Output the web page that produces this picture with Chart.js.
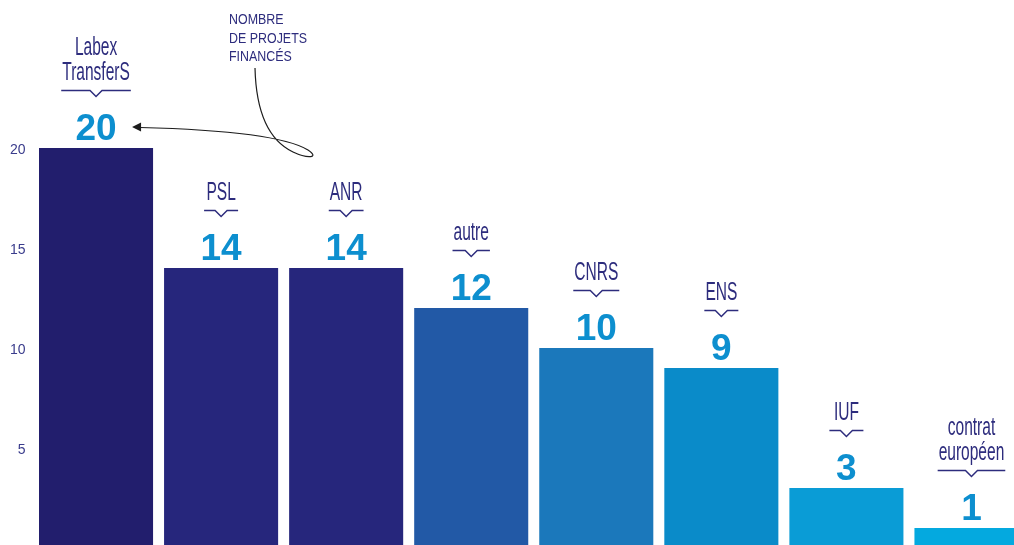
<!DOCTYPE html>
<html lang="fr">
<head>
<meta charset="utf-8">
<script src="https://cdn.jsdelivr.net/npm/chart.js@4.4.1/dist/chart.umd.min.js"></script>
<style>
  html, body { margin: 0; padding: 0; background: #fff; overflow: hidden; }
  #wrap { position: relative; width: 1034px; height: 548px; }
</style>
</head>
<body>
<div id="wrap"><canvas id="projets"></canvas></div>
<script>
// ------------------------------------------------------------
// données
// ------------------------------------------------------------
const categories = [['Labex', 'TransferS'], ['PSL'], ['ANR'], ['autre'], ['CNRS'], ['ENS'], ['IUF'], ['contrat', 'européen']];
const projets = [20, 14, 14, 12, 10, 9, 3, 1];
const barColors = ['#221e6d', '#26267c', '#26267c', '#2259a6', '#1b78bb', '#0a8bc9', '#0a9cd6', '#04a9df'];
const yTicks = [5, 10, 15, 20];
const calloutLines = ['NOMBRE', 'DE PROJETS', 'FINANCÉS'];

const navy = '#2d2c7d';
const valueBlue = '#0d8fcf';
const narrow = "'Liberation Sans Narrow', 'Liberation Sans', sans-serif";
const sans = "'Liberation Sans', Arial, sans-serif";

// draw text squeezed horizontally (the original uses a condensed face)
function squeezed(ctx, text, x, y, sx, align) {
    ctx.save();
    ctx.translate(x, y);
    ctx.scale(sx, 1);
    ctx.textAlign = align;
    ctx.fillText(text, 0, 0);
    ctx.restore();
}

const annotations = {
    id: 'annotations',
    afterDatasetsDraw(chart) {
        const ctx = chart.ctx;
        const meta = chart.getDatasetMeta(0);

        ctx.save();
        ctx.font = `26px ${narrow}`;
        const sx = 44 / ctx.measureText('CNRS').width;

        meta.data.forEach((bar, i) => {
            const x = bar.x;
            const top = bar.y;

            // value above bar
            ctx.font = `bold 37px ${sans}`;
            ctx.fillStyle = valueBlue;
            ctx.textAlign = 'center';
            ctx.textBaseline = 'alphabetic';
            ctx.fillText(String(projets[i]), x, top - 8);

            // category label + little bracket
            const lines = categories[i];
            const lineY = top - 57.5;
            ctx.font = `26px ${narrow}`;
            const w = Math.max(...lines.map(l => ctx.measureText(l).width * sx));
            const half = Math.max(w + 2, 34) / 2;

            ctx.strokeStyle = navy;
            ctx.lineWidth = 1.5;
            ctx.beginPath();
            ctx.moveTo(x - half, lineY);
            ctx.lineTo(x - 6, lineY);
            ctx.lineTo(x, lineY + 6);
            ctx.lineTo(x + 6, lineY);
            ctx.lineTo(x + half, lineY);
            ctx.stroke();

            ctx.fillStyle = navy;
            lines.forEach((l, k) => {
                const by = lineY - 11 - (lines.length - 1 - k) * 25;
                squeezed(ctx, l, x, by, sx, 'center');
            });
        });

        // callout "nombre de projets financés"
        ctx.font = `15px ${narrow}`;
        const sx2 = 78 / ctx.measureText('DE PROJETS').width;
        ctx.fillStyle = navy;
        calloutLines.forEach((l, k) => {
            squeezed(ctx, l, 229, 24 + k * 18.7, sx2, 'left');
        });

        // looping arrow towards the first value
        const first = meta.data[0];
        const tipX = first.x + 36;
        const tipY = first.y - 21;
        ctx.strokeStyle = '#1c1c1c';
        ctx.lineWidth = 1.2;
        ctx.beginPath();
        ctx.moveTo(255, 68);
        ctx.bezierCurveTo(256, 110, 268, 140, 293, 152);
        ctx.bezierCurveTo(308, 159, 320, 158, 308, 150);
        ctx.bezierCurveTo(290, 139, 240, 130, tipX + 8, tipY + 0.5);
        ctx.stroke();

        ctx.fillStyle = '#1c1c1c';
        ctx.beginPath();
        ctx.moveTo(tipX, tipY);
        ctx.lineTo(tipX + 9, tipY - 4.5);
        ctx.lineTo(tipX + 9, tipY + 4.5);
        ctx.closePath();
        ctx.fill();

        ctx.restore();
    }
};

// ------------------------------------------------------------
// graphique
// ------------------------------------------------------------
const chart = new Chart(document.getElementById('projets'), {
    type: 'bar',
    data: {
        labels: categories,
        datasets: [{
            label: 'Nombre de projets financés',
            data: projets,
            backgroundColor: barColors,
            borderWidth: 0,
            categoryPercentage: 1,
            barPercentage: 0.912
        }]
    },
    options: {
        responsive: true,
        maintainAspectRatio: false,
        animation: false,
        layout: { padding: 0 },
        plugins: { legend: { display: false }, tooltip: { enabled: false } },
        scales: {
            x: { display: false },
            y: {
                min: 0,
                max: 27.4,
                grid: { display: false, drawTicks: false },
                border: { display: false },
                afterBuildTicks: scale => {
                    scale.ticks = yTicks.map(v => ({ value: v }));
                },
                afterFit: scale => {
                    scale.width = 33.5;
                    scale.paddingTop = 0;
                    scale.paddingBottom = 0;
                },
                ticks: {
                    padding: 8,
                    labelOffset: 2,
                    color: '#3a3c8c',
                    font: { family: sans, size: 14 }
                }
            }
        }
    },
    plugins: [annotations]
});
</script>
</body>
</html>
